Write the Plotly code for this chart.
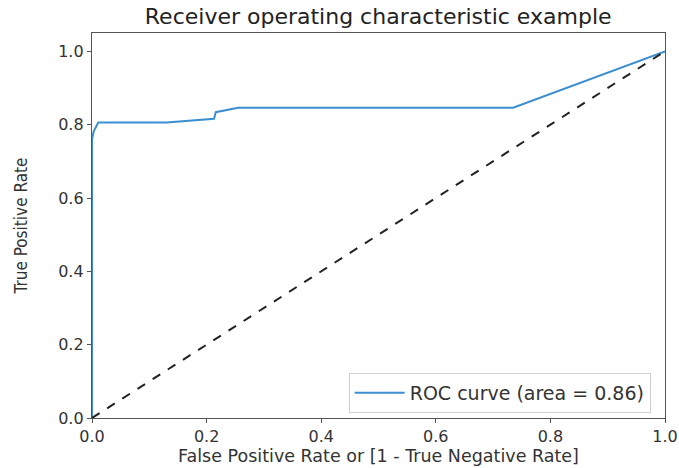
import plotly.graph_objects as go

# ROC curve points (false positive rate, true positive rate)
fpr = [0.0, 0.0, 0.003, 0.007, 0.011, 0.13, 0.210, 0.213, 0.216, 0.255, 0.735, 1.0]
tpr = [0.0, 0.760, 0.782, 0.795, 0.806, 0.806, 0.814, 0.816, 0.834, 0.846, 0.846, 1.0]
roc_auc = 0.86

# chance diagonal
diag_x = [0, 1]
diag_y = [0, 1]

x_ticks = [0.0, 0.2, 0.4, 0.6, 0.8, 1.0]
y_ticks = [0.0, 0.2, 0.4, 0.6, 0.8, 1.0]

font = "DejaVu Sans"
text_col = "#333333"

fig = go.Figure()
fig.add_trace(go.Scatter(
    x=fpr, y=tpr, mode="lines",
    line=dict(color="#3b8fd0", width=2),
    name=f"ROC curve (area = {roc_auc:.2f})",
))
fig.add_trace(go.Scatter(
    x=diag_x, y=diag_y, mode="lines",
    line=dict(color="#222222", width=2, dash="dash"),
    showlegend=False,
))

axis_common = dict(
    showgrid=False, zeroline=False, automargin=False,
    showline=True, linecolor="#555555", linewidth=1.3, mirror=True,
    ticks="outside", ticklen=4, tickcolor="#555555", tickwidth=1.3,
    tickfont=dict(family=font, size=16, color=text_col),
    tickformat=".1f",
)

fig.update_layout(
    width=679, height=468,
    margin=dict(l=92, r=14, t=33, b=50),
    paper_bgcolor="white", plot_bgcolor="white",
    title=dict(text="Receiver operating characteristic example",
               x=0.557, xanchor="center", y=0.965, yanchor="middle",
               font=dict(family=font, size=22, color="#222222")),
    xaxis=dict(range=[0, 1], tickvals=x_ticks,
               title=dict(text="False Positive Rate or [1 - True Negative Rate]",
                          font=dict(family=font, size=17.5, color=text_col),
                          standoff=0),
               **axis_common),
    yaxis=dict(range=[0, 1.05], tickvals=y_ticks,
               title=dict(text="True Positive Rate",
                          font=dict(family="Liberation Sans Narrow, DejaVu Sans Condensed, " + font,
                                    size=17, color=text_col),
                          standoff=26),
               **axis_common),
    legend=dict(x=0.975, y=0.013, xanchor="right", yanchor="bottom",
                bgcolor="white", bordercolor="#d0d0d0", borderwidth=1,
                itemwidth=50,
                font=dict(family=font, size=19, color=text_col)),
    showlegend=True,
)

fig.write_html("out.html")
